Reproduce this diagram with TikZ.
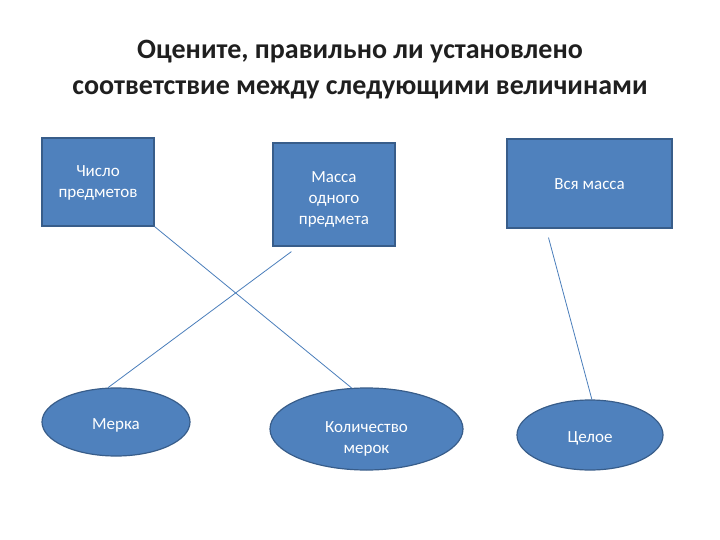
\documentclass[tikz,border=0pt]{standalone}
\usepackage{fontspec}
\setmainfont{Carlito}
\usetikzlibrary{shapes.geometric}
\definecolor{boxfill}{HTML}{4F81BD}
\definecolor{boxedge}{HTML}{385D8A}
\definecolor{linkcol}{HTML}{4A7EBB}
\definecolor{titlecol}{HTML}{1F1F1F}
\begin{document}
\begin{tikzpicture}[x=1pt,y=-1pt,
  ntext/.style={text=white,align=center,font=\fontsize{17}{21}\selectfont,inner sep=0pt},
  rbox/.style={draw=boxedge,line width=1.2pt,fill=boxfill,inner sep=0pt},
  oval/.style={ellipse,draw=boxedge,line width=1.2pt,fill=boxfill,inner sep=0pt},
  link/.style={draw=linkcol,line width=0.8pt}]
\useasboundingbox (0,0) rectangle (720,540);
\fill[white] (0,0) rectangle (720,540);
\node[text=titlecol,align=center,font=\bfseries\fontsize{28}{36}\selectfont] (title) at (360,70)
  {Оцените, правильно ли установлено\\соответствие между следующими величинами};
\node[rbox,minimum width=112,minimum height=88,
  label={[ntext,yshift=-1pt]center:Число\\предметов}] (b1) at (98,182) {};
\node[rbox,minimum width=122,minimum height=103,
  label={[ntext,yshift=-5pt]center:Масса\\одного\\предмета}] (b2) at (334,194.5) {};
\node[rbox,minimum width=165,minimum height=89,
  label={[ntext,yshift=-1pt]center:Вся масса}] (b3) at (589.5,183.5) {};
\node[oval,minimum width=148,minimum height=68,
  label={[ntext,yshift=-3pt]center:Мерка}] (e1) at (116,422) {};
\node[oval,minimum width=193,minimum height=82,
  label={[ntext,yshift=-9.5pt]center:Количество\\мерок}] (e2) at (366.5,429) {};
\node[oval,minimum width=146,minimum height=70,
  label={[ntext,yshift=-3pt]center:Целое}] (e3) at (590,435) {};
\draw[link] (b1.south east) -- (e2.110);
\draw[link] ([shift={(19,5)}]b2.south west) -- (e1.103);
\draw[link] ([shift={(-41,9)}]b3.south) -- (e3.87);
\end{tikzpicture}
\end{document}
